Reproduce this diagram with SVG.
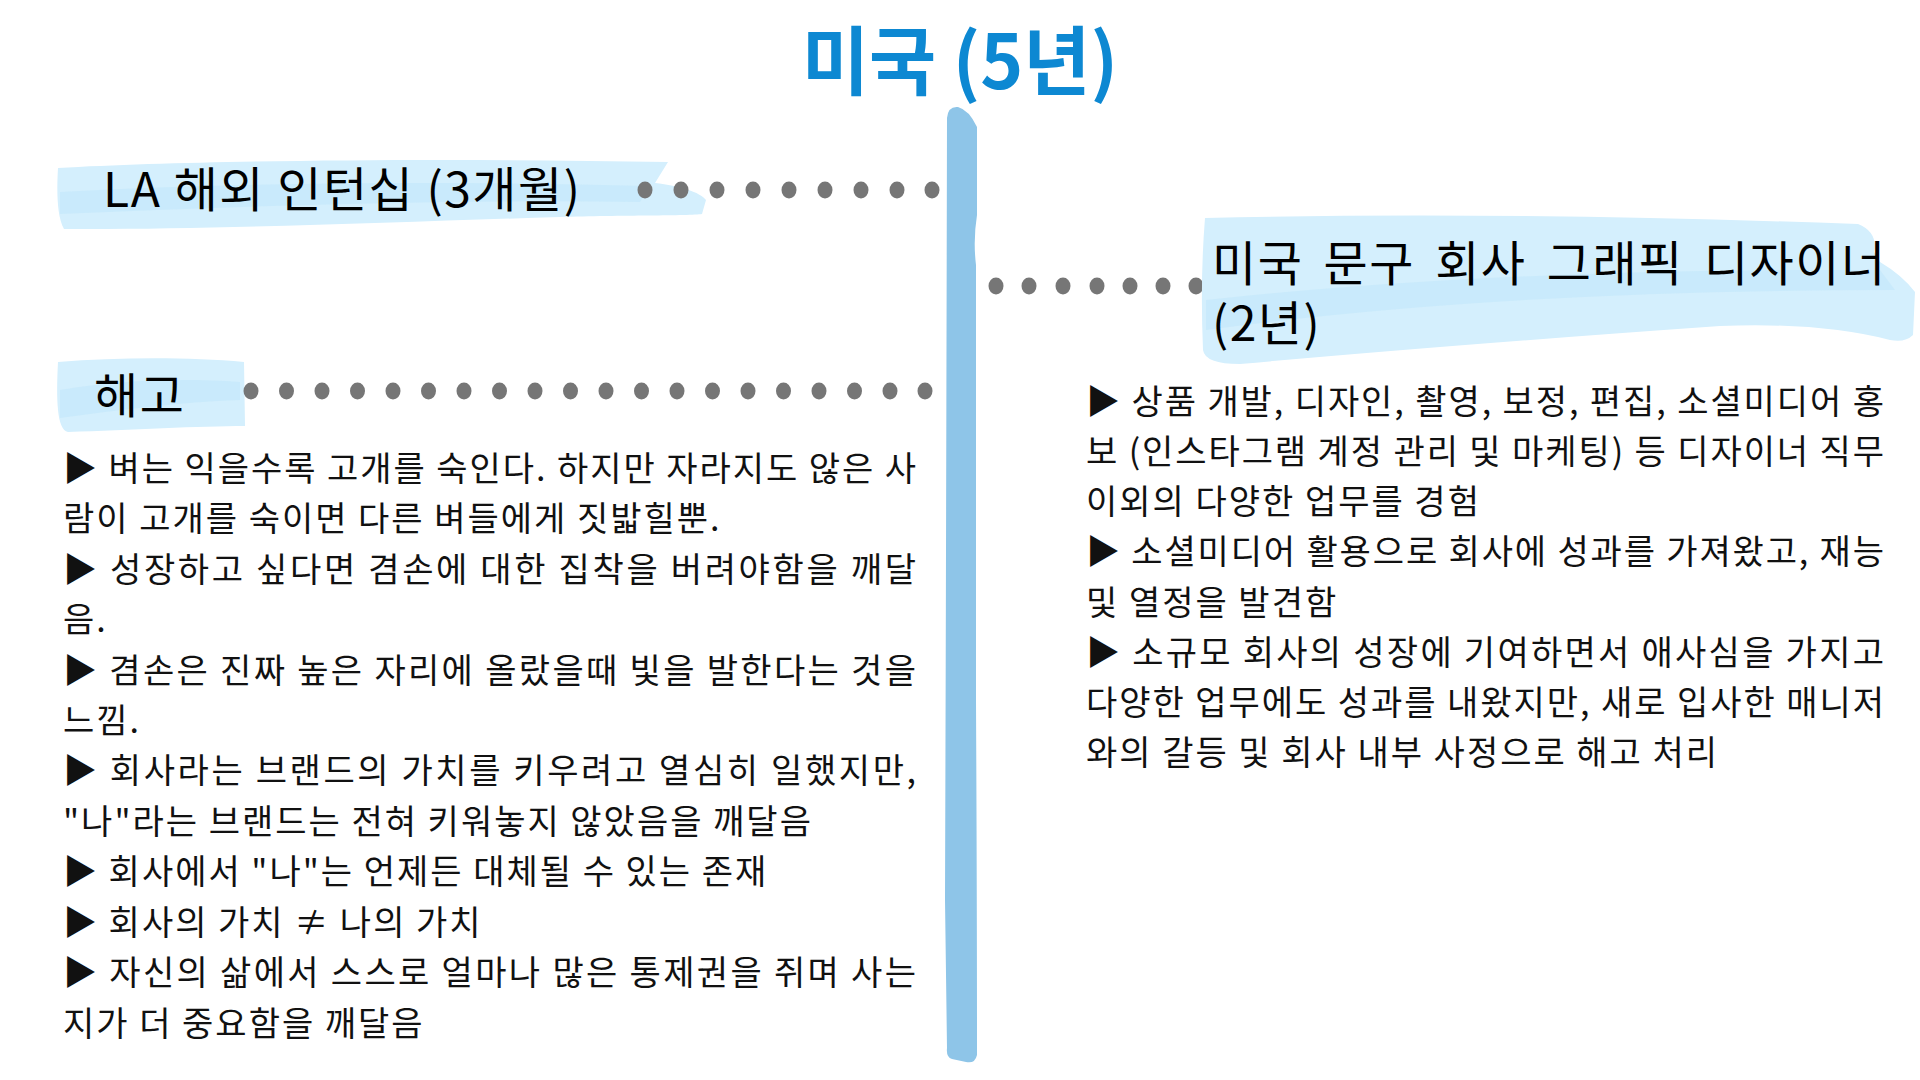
<svg xmlns="http://www.w3.org/2000/svg" width="1920" height="1080" viewBox="0 0 1920 1080">
<style>
  text { font-family: "Noto Sans CJK KR", "Noto Sans", sans-serif; }
  .title { font-size: 75px; font-weight: 700; fill: #0d88d2; }
  .head { font-size: 48px; font-weight: 400; fill: #000; letter-spacing: 1.5px; }
  .body { font-size: 34px; font-weight: 400; fill: #111; letter-spacing: 2px; }
  .brush { fill: #d4effd; }
  .streak { fill: #c5e8fb; opacity: 0.7; }
  .dot { fill: #767676; }
  .bar { fill: #8ec5e8; }
</style>
<rect width="1920" height="1080" fill="#ffffff"/>

<g id="title">
  <text class="title" x="802" y="89" textLength="316" lengthAdjust="spacingAndGlyphs">미국 (5년)</text>
</g>

<g id="timeline">
  <path class="bar" d="M 947 118 Q 948 106 958 107 Q 969 110 977 127 L 977 215 Q 973 240 976 265 L 976 700 Q 977 900 977 1055 Q 975 1064 966 1062 L 952 1059 Q 946 1057 947 1048 L 945 900 Q 946 600 947 118 Z"/>
</g>

<g id="connectors">
  <g id="conn-us-job">
    <ellipse class="dot" cx="996" cy="286" rx="7.5" ry="8.5"/>
    <ellipse class="dot" cx="1029" cy="286" rx="7.5" ry="8.5"/>
    <ellipse class="dot" cx="1063" cy="286" rx="7.5" ry="8.5"/>
    <ellipse class="dot" cx="1097" cy="286" rx="7.5" ry="8.5"/>
    <ellipse class="dot" cx="1130" cy="286" rx="7.5" ry="8.5"/>
    <ellipse class="dot" cx="1163" cy="286" rx="7.5" ry="8.5"/>
    <ellipse class="dot" cx="1196" cy="286" rx="7.5" ry="8.5"/>
  </g>
</g>

<g id="node-la">
  <path class="brush" d="M 58 168 C 200 160 450 158 668 162 L 655 183 C 680 186 700 192 706 200 L 702 214 C 690 216 620 215 560 217 C 400 222 200 230 64 229 C 56 215 57 185 58 168 Z"/>
  <path class="streak" d="M 60 192 C 250 182 450 181 650 186 L 640 202 C 450 199 250 206 60 214 Z"/>
  <text class="head" x="103" y="207">LA 해외 인턴십 (3개월)</text>
</g>

<g id="node-haego">
  <path class="brush" d="M 58 362 C 120 357 190 357 244 362 L 245 426 C 200 426 130 430 68 432 C 57 430 56 400 58 362 Z"/>
  <path class="streak" d="M 60 390 C 120 380 180 378 240 382 L 240 400 C 180 402 120 410 60 418 Z"/>
  <text class="head" x="94" y="413" font-size="50" font-weight="500">해고</text>
</g>

<g id="node-us-job">
  <path class="brush" d="M 1205 218 Q 1500 211 1858 224 Q 1878 232 1874 252 L 1880 262 Q 1902 275 1915 292 L 1913 335 Q 1905 343 1890 340 Q 1820 322 1720 326 Q 1450 345 1240 364 Q 1205 364 1203 350 Q 1200 280 1205 218 Z"/>
  <path class="streak" d="M 1206 300 Q 1500 268 1880 270 L 1895 290 Q 1500 290 1206 330 Z"/>
  <text class="head" x="1212" y="281"><tspan word-spacing="8">미국 문구 회사 그래픽 디자이너</tspan><tspan x="1212" dy="60">(2년)</tspan></text>
</g>

<g id="connectors-left">
  <g id="conn-la">
    <ellipse class="dot" cx="645" cy="190" rx="7.5" ry="8.5"/>
    <ellipse class="dot" cx="681" cy="190" rx="7.5" ry="8.5"/>
    <ellipse class="dot" cx="717" cy="190" rx="7.5" ry="8.5"/>
    <ellipse class="dot" cx="753" cy="190" rx="7.5" ry="8.5"/>
    <ellipse class="dot" cx="789" cy="190" rx="7.5" ry="8.5"/>
    <ellipse class="dot" cx="825" cy="190" rx="7.5" ry="8.5"/>
    <ellipse class="dot" cx="861" cy="190" rx="7.5" ry="8.5"/>
    <ellipse class="dot" cx="897" cy="190" rx="7.5" ry="8.5"/>
    <ellipse class="dot" cx="932" cy="190" rx="7.5" ry="8.5"/>
  </g>
  <g id="conn-haego">
    <ellipse class="dot" cx="251" cy="391" rx="7.5" ry="8.5"/>
    <ellipse class="dot" cx="286.5" cy="391" rx="7.5" ry="8.5"/>
    <ellipse class="dot" cx="322" cy="391" rx="7.5" ry="8.5"/>
    <ellipse class="dot" cx="357.5" cy="391" rx="7.5" ry="8.5"/>
    <ellipse class="dot" cx="393" cy="391" rx="7.5" ry="8.5"/>
    <ellipse class="dot" cx="428.5" cy="391" rx="7.5" ry="8.5"/>
    <ellipse class="dot" cx="464" cy="391" rx="7.5" ry="8.5"/>
    <ellipse class="dot" cx="499.5" cy="391" rx="7.5" ry="8.5"/>
    <ellipse class="dot" cx="535" cy="391" rx="7.5" ry="8.5"/>
    <ellipse class="dot" cx="570.5" cy="391" rx="7.5" ry="8.5"/>
    <ellipse class="dot" cx="606" cy="391" rx="7.5" ry="8.5"/>
    <ellipse class="dot" cx="641.5" cy="391" rx="7.5" ry="8.5"/>
    <ellipse class="dot" cx="677" cy="391" rx="7.5" ry="8.5"/>
    <ellipse class="dot" cx="712.5" cy="391" rx="7.5" ry="8.5"/>
    <ellipse class="dot" cx="748" cy="391" rx="7.5" ry="8.5"/>
    <ellipse class="dot" cx="783.5" cy="391" rx="7.5" ry="8.5"/>
    <ellipse class="dot" cx="819" cy="391" rx="7.5" ry="8.5"/>
    <ellipse class="dot" cx="854.5" cy="391" rx="7.5" ry="8.5"/>
    <ellipse class="dot" cx="890" cy="391" rx="7.5" ry="8.5"/>
    <ellipse class="dot" cx="925" cy="391" rx="7.5" ry="8.5"/>
  </g>
</g>

<g id="text-left">
  <text class="body" x="63" y="481" textLength="855" lengthAdjust="spacing">▶ 벼는 익을수록 고개를 숙인다. 하지만 자라지도 않은 사</text>
  <text class="body" x="63" y="531">람이 고개를 숙이면 다른 벼들에게 짓밟힐뿐.</text>
  <text class="body" x="63" y="582" textLength="855" lengthAdjust="spacing">▶ 성장하고 싶다면 겸손에 대한 집착을 버려야함을 깨달</text>
  <text class="body" x="63" y="632">음.</text>
  <text class="body" x="63" y="683" textLength="855" lengthAdjust="spacing">▶ 겸손은 진짜 높은 자리에 올랐을때 빛을 발한다는 것을</text>
  <text class="body" x="63" y="733">느낌.</text>
  <text class="body" x="63" y="783" textLength="855" lengthAdjust="spacing">▶ 회사라는 브랜드의 가치를 키우려고 열심히 일했지만,</text>
  <text class="body" x="63" y="834">"나"라는 브랜드는 전혀 키워놓지 않았음을 깨달음</text>
  <text class="body" x="63" y="884">▶ 회사에서 "나"는 언제든 대체될 수 있는 존재</text>
  <text class="body" x="63" y="935">▶ 회사의 가치 ≠ 나의 가치</text>
  <text class="body" x="63" y="985" textLength="855" lengthAdjust="spacing">▶ 자신의 삶에서 스스로 얼마나 많은 통제권을 쥐며 사는</text>
  <text class="body" x="63" y="1036">지가 더 중요함을 깨달음</text>
</g>

<g id="text-right">
  <text class="body" x="1086" y="414" textLength="800" lengthAdjust="spacing">▶ 상품 개발, 디자인, 촬영, 보정, 편집, 소셜미디어 홍</text>
  <text class="body" x="1086" y="464" textLength="800" lengthAdjust="spacing">보 (인스타그램 계정 관리 및 마케팅) 등 디자이너 직무</text>
  <text class="body" x="1086" y="514">이외의 다양한 업무를 경험</text>
  <text class="body" x="1086" y="564" textLength="800" lengthAdjust="spacing">▶ 소셜미디어 활용으로 회사에 성과를 가져왔고, 재능</text>
  <text class="body" x="1086" y="615">및 열정을 발견함</text>
  <text class="body" x="1086" y="665" textLength="800" lengthAdjust="spacing">▶ 소규모 회사의 성장에 기여하면서 애사심을 가지고</text>
  <text class="body" x="1086" y="715" textLength="800" lengthAdjust="spacing">다양한 업무에도 성과를 내왔지만, 새로 입사한 매니저</text>
  <text class="body" x="1086" y="765">와의 갈등 및 회사 내부 사정으로 해고 처리</text>
</g>
</svg>
